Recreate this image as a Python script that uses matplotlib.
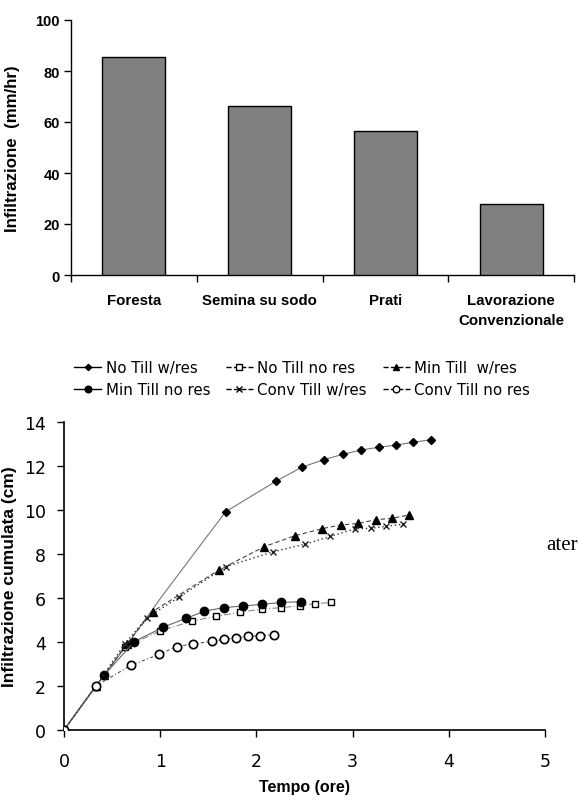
import matplotlib
matplotlib.use("Agg")
import matplotlib.pyplot as plt
from matplotlib.lines import Line2D

# ---------------- data ----------------
bar_categories = ["Foresta", "Semina su sodo", "Prati", "Lavorazione\nConvenzionale"]
bar_values = [85.3, 66.4, 56.3, 27.7]
bar_yticks = [0, 20, 40, 60, 80, 100]

nt_wr_t = [0, 0.33, 0.42, 0.65, 1.03, 1.68, 2.20, 2.47, 2.70, 2.90, 3.09, 3.27, 3.45, 3.63, 3.82]
nt_wr_y = [0, 2.0, 2.5, 3.85, 6.15, 9.92, 11.3, 11.94, 12.29, 12.53, 12.73, 12.85, 12.95, 13.08, 13.2]

nt_nr_t = [0, 0.33, 0.63, 1.0, 1.33, 1.58, 1.83, 2.06, 2.26, 2.45, 2.61, 2.78]
nt_nr_y = [0, 1.97, 3.77, 4.5, 4.95, 5.17, 5.35, 5.5, 5.56, 5.65, 5.74, 5.8]

mt_wr_t = [0, 0.33, 0.42, 0.65, 0.92, 1.61, 2.08, 2.40, 2.68, 2.88, 3.06, 3.24, 3.41, 3.59]
mt_wr_y = [0, 2.0, 2.5, 3.9, 5.38, 7.27, 8.33, 8.83, 9.15, 9.32, 9.39, 9.56, 9.62, 9.78]

mt_nr_t = [0, 0.42, 0.73, 1.03, 1.27, 1.46, 1.66, 1.86, 2.06, 2.26, 2.46]
mt_nr_y = [0, 2.5, 4.02, 4.67, 5.08, 5.4, 5.56, 5.64, 5.71, 5.8, 5.83]

ct_wr_t = [0, 0.33, 0.63, 0.86, 1.20, 1.68, 2.17, 2.51, 2.77, 3.02, 3.19, 3.35, 3.52]
ct_wr_y = [0, 2.0, 3.9, 5.1, 6.05, 7.42, 8.1, 8.45, 8.8, 9.14, 9.17, 9.26, 9.35]

ct_nr_t = [0, 0.33, 0.70, 0.99, 1.17, 1.34, 1.54, 1.66, 1.79, 1.91, 2.04, 2.18]
ct_nr_y = [0, 2.0, 2.95, 3.44, 3.79, 3.91, 4.03, 4.12, 4.18, 4.26, 4.29, 4.34]

series_labels = ["No Till w/res", "No Till no res", "Min Till  w/res",
                 "Min Till no res", "Conv Till w/res", "Conv Till no res"]
line_xticks = [0, 1, 2, 3, 4, 5]
line_yticks = [0, 2, 4, 6, 8, 10, 12, 14]

# ---------------- figure ----------------
W, H = 578, 804
fig = plt.figure(figsize=(W / 100, H / 100), dpi=100)
fig.patch.set_facecolor("white")

def px_axes(l, t, r, b):
    return fig.add_axes([l / W, 1 - b / H, (r - l) / W, (b - t) / H])

BOLD = dict(family="Liberation Sans", weight="bold")

# ---------- top bar chart ----------
ax1 = px_axes(71, 21, 574, 276)
xs = list(range(len(bar_categories)))
ax1.bar(xs, bar_values, width=0.5, color="#808080", edgecolor="black", linewidth=1.0, zorder=3)
ax1.set_xlim(-0.5, len(bar_categories) - 0.5)
ax1.set_ylim(0, 100)
ax1.set_yticks(bar_yticks)
ax1.set_yticklabels([str(v) for v in bar_yticks], fontsize=10.5, **BOLD)
ax1.set_xticks([i - 0.5 for i in range(len(bar_categories) + 1)])
ax1.set_xticklabels([])
ax1.set_xticks(xs, minor=True)
ax1.set_xticklabels(bar_categories, minor=True, fontsize=10.8, linespacing=1.55, **BOLD)
ax1.tick_params(axis="x", which="major", direction="out", length=5, width=1, color="black")
ax1.tick_params(axis="x", which="minor", length=0, pad=13)
ax1.tick_params(axis="y", direction="out", length=5, width=1, pad=3)
for s in ["top", "right"]:
    ax1.spines[s].set_visible(False)
for s in ["left", "bottom"]:
    ax1.spines[s].set_linewidth(1.0)
ax1.set_ylabel("Infiltrazione  (mm/hr)", fontsize=12.2, labelpad=11, **BOLD)

# ---------- bottom line chart ----------
ax2 = px_axes(64, 423, 545, 731)
h1, = ax2.plot(nt_wr_t, nt_wr_y, color="#777777", lw=0.8, ls="-",
               marker="D", ms=4, mfc="black", mec="black", zorder=4,
               markevery=[i for i in range(len(nt_wr_t)) if i != 4])
h2, = ax2.plot(nt_nr_t, nt_nr_y, color="#8a8a8a", lw=0.8, ls=(0, (6, 2, 1, 2)),
               marker="s", ms=5, mfc="white", mec="black", mew=1.0, zorder=4)
h3, = ax2.plot(mt_wr_t, mt_wr_y, color="#444444", lw=0.8, ls=(0, (4, 2.5)),
               marker="^", ms=6, mfc="black", mec="black", zorder=4)
h4, = ax2.plot(mt_nr_t, mt_nr_y, color="#666666", lw=0.8, ls="-",
               marker="o", ms=6, mfc="black", mec="black", zorder=4)
h5, = ax2.plot(ct_wr_t, ct_wr_y, color="#333333", lw=1.0, ls=(0, (1, 2)),
               marker="x", ms=5, mfc="black", mec="#222222", mew=1.0, zorder=4)
h6, = ax2.plot(ct_nr_t, ct_nr_y, color="#555555", lw=0.8, ls=(0, (3, 2, 1, 2)),
               marker="o", ms=6, mfc="white", mec="black", mew=1.2, zorder=4)

ax2.set_xlim(0, 5)
ax2.set_ylim(0, 14)
ax2.set_xticks(line_xticks)
ax2.set_xticklabels([str(v) for v in line_xticks], fontsize=12.5, family="DejaVu Sans")
ax2.set_yticks(line_yticks)
ax2.set_yticklabels([str(v) for v in line_yticks], fontsize=12.5, family="DejaVu Sans")
ax2.tick_params(axis="both", direction="out", length=5, width=1)
ax2.tick_params(axis="x", pad=11)
ax2.tick_params(axis="y", pad=8)
for s in ["top", "right"]:
    ax2.spines[s].set_visible(False)
for s in ["left", "bottom"]:
    ax2.spines[s].set_linewidth(1.2)
ax2.set_ylabel("Infiltrazione cumulata (cm)", fontsize=12.5, labelpad=5, **BOLD)
ax2.set_xlabel("Tempo (ore)", fontsize=11.5, labelpad=6, **BOLD)

# legend (row-major order: 3 columns x 2 rows)
def leg_handle(h):
    return Line2D([], [], color="black", lw=1.0, ls=h.get_linestyle(),
                  marker=h.get_marker(), ms=h.get_markersize() * 0.8,
                  mfc=h.get_markerfacecolor(), mec="black")

hs = [leg_handle(h) for h in (h1, h2, h3, h4, h5, h6)]
order = [0, 3, 1, 4, 2, 5]
fig.legend([hs[i] for i in order], [series_labels[i] for i in order],
           ncol=3, loc="upper left", bbox_to_anchor=(74 / W, 1 - 361 / H),
           frameon=False, borderpad=0, borderaxespad=0, handlelength=1.8,
           handletextpad=0.3, columnspacing=1.05, labelspacing=0.5,
           prop=dict(family="DejaVu Sans", size=10.8))

# stray text fragment at right
fig.text(546 / W, 1 - 546 / H, "ater", fontsize=15, family="Liberation Serif",
         ha="left", va="center")

fig.savefig("out.png", dpi=100, facecolor="white")
